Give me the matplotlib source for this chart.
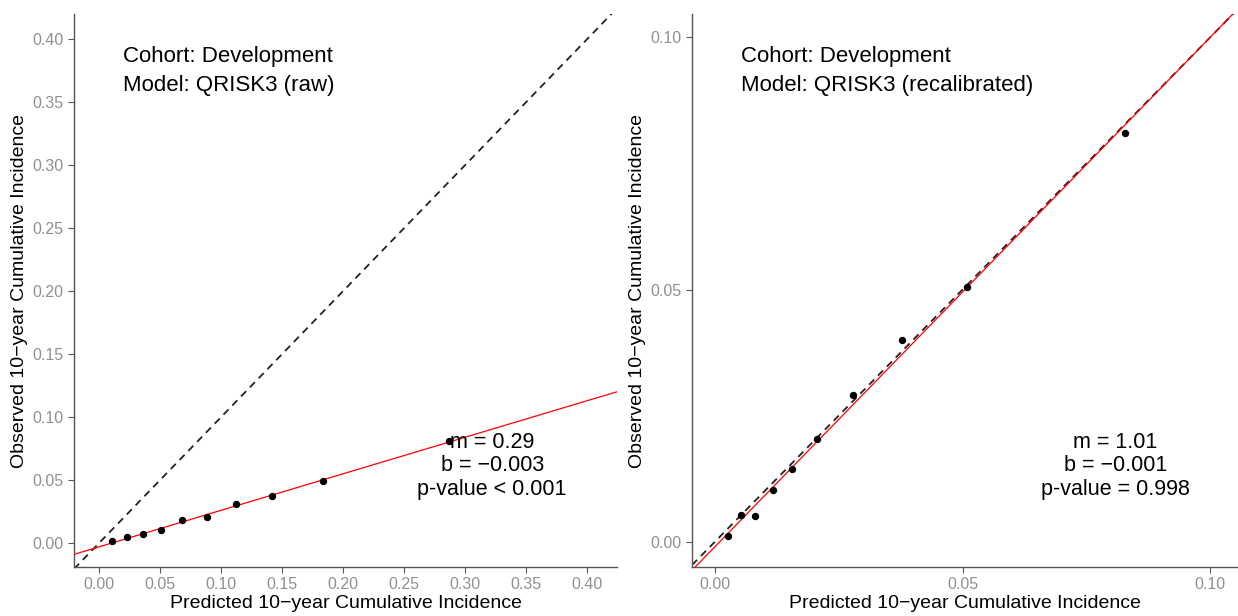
import matplotlib
matplotlib.use("Agg")
import matplotlib.pyplot as plt
import numpy as np

plt.rcParams['font.family'] = ['Liberation Sans', 'DejaVu Sans']

# development cohort, raw QRISK3
pred_raw = [0.0104, 0.0227, 0.0358, 0.0508, 0.0683, 0.0885, 0.1125, 0.142, 0.1836, 0.287]
obs_raw = [0.0013, 0.005, 0.0074, 0.0103, 0.018, 0.0206, 0.0312, 0.0375, 0.0494, 0.081]
m_raw, b_raw = 0.29, -0.003

# development cohort, recalibrated
pred_rec = [0.00256, 0.00525, 0.0082, 0.01165, 0.0156, 0.0207, 0.0278, 0.0378, 0.051, 0.0828]
obs_rec = [0.0011, 0.0054, 0.0051, 0.0102, 0.0144, 0.0204, 0.0291, 0.0399, 0.0505, 0.0811]
m_rec, b_rec = 1.01, -0.001

raw_ticks = [0.00, 0.05, 0.10, 0.15, 0.20, 0.25, 0.30, 0.35, 0.40]
rec_ticks = [0.00, 0.05, 0.10]

fig = plt.figure(figsize=(12.38, 6.16), dpi=100)
ax1 = fig.add_axes([0.0598, 0.0795, 0.4386, 0.8977])
ax2 = fig.add_axes([0.559, 0.0795, 0.4410, 0.8977])

panels = [
    (ax1, pred_raw, obs_raw, m_raw, b_raw, raw_ticks, (-0.0205, 0.4246), (-0.019, 0.42),
     "Cohort: Development\nModel: QRISK3 (raw)", "m = 0.29\nb = \u22120.003\np-value < 0.001", 0.77),
    (ax2, pred_rec, obs_rec, m_rec, b_rec, rec_ticks, (-0.0046, 0.1056), (-0.005, 0.1046),
     "Cohort: Development\nModel: QRISK3 (recalibrated)", "m = 1.01\nb = \u22120.001\np-value = 0.998", 0.775),
]

for ax, px, py, m, b, ticks, xl, yl, title, stats, sx in panels:
    xs = np.array(xl)
    ax.plot(xs, xs, color='#222222', ls=(0, (4, 3)), lw=1.3, zorder=2)
    ax.plot(xs, m * xs + b, color='red', lw=0.9, zorder=3)
    ax.plot(px, py, 'o', color='black', ms=4.3, zorder=4)
    ax.set_xlim(xl)
    ax.set_ylim(yl)
    ax.set_xticks(ticks)
    ax.set_yticks(ticks)
    ax.set_xticklabels(['%.2f' % t for t in ticks])
    ax.set_yticklabels(['%.2f' % t for t in ticks])
    for s in ['top', 'right']:
        ax.spines[s].set_visible(False)
    for s in ['left', 'bottom']:
        ax.spines[s].set_color('#555555')
        ax.spines[s].set_linewidth(1.0)
    ax.tick_params(colors='#555555', labelcolor='#909090', labelsize=11.5, length=4)
    ax.set_xlabel("Predicted 10\u2212year Cumulative Incidence", fontsize=14, labelpad=2)
    ax.set_ylabel("Observed 10\u2212year Cumulative Incidence", fontsize=14, labelpad=3)
    ax.text(0.09, 0.943, title, transform=ax.transAxes, fontsize=16, va='top', ha='left',
            linespacing=1.5)
    ax.text(sx, 0.183, stats, transform=ax.transAxes, fontsize=15.5, va='center', ha='center',
            linespacing=1.15)

fig.savefig("out.png", dpi=100)
